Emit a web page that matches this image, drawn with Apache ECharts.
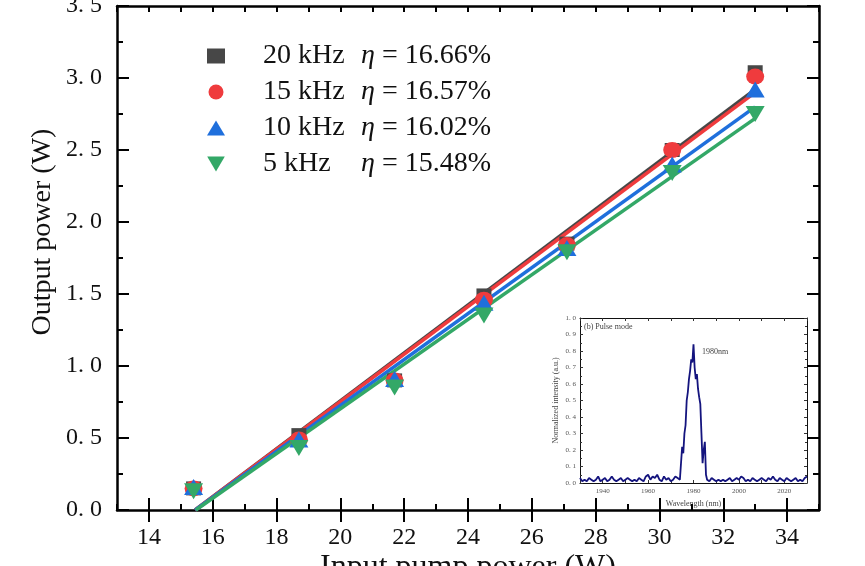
<!DOCTYPE html>
<html><head><meta charset="utf-8">
<script src="https://cdn.jsdelivr.net/npm/echarts@6/dist/echarts.min.js"></script>
<style>html,body{margin:0;padding:0;background:#fff}#c{width:865px;height:566px}</style>
</head><body><div id="c"></div>
<script>
// ---- data ----
const pumpPower = [15.4, 18.7, 21.7, 24.5, 27.1, 30.4, 33.0];
const seriesNames = ['20 kHz', '15 kHz', '10 kHz', '5 kHz'];
const etaLabels = ['16.66%', '16.57%', '16.02%', '15.48%'];
const out20 = [0.15, 0.52, 0.90, 1.49, 1.85, 2.50, 3.04];
const out15 = [0.15, 0.49, 0.90, 1.46, 1.84, 2.50, 3.01];
const out10 = [0.16, 0.49, 0.91, 1.44, 1.82, 2.40, 2.92];
const out5  = [0.13, 0.43, 0.85, 1.35, 1.79, 2.34, 2.75];
const fitStartX = [15.45, 15.45, 15.45, 15.47];
const fitEndX = [33.0, 33.0, 33.0, 33.0];
const fitEndY = [2.92, 2.90, 2.80, 2.72];
// x tick positions (13..35), labels shown on the even ones
const xTickCats = ['13','14','15','16','17','18','19','20','21','22','23','24',
                   '25','26','27','28','29','30','31','32','33','34','35'];
// inset spectrum (pulse mode): baseline left, peak, baseline right
const leftWl = [1930,1931,1932,1933,1934,1935,1936,1937,1938,1939,1940,1941,1942,1943,1944,
  1945,1946,1947,1948,1949,1950,1951,1952,1953,1954,1955,1956,1957,1958,1959,1960,1961,
  1962,1963,1964,1965,1966,1967,1968,1969,1970,1971,1972,1973,1974];
const leftInt = [0.03,0.01,0.02,0.01,0.03,0.02,0.01,0.02,0.04,0.01,
  0.02,0.03,0.01,0.02,0.04,0.02,0.01,0.02,0.03,0.01,
  0.02,0.03,0.02,0.01,0.02,0.01,0.03,0.02,0.01,0.04,
  0.05,0.02,0.04,0.03,0.05,0.02,0.01,0.04,0.02,0.03,
  0.01,0.02,0.04,0.03,0.02];
const peakWl = [1974.5,1975,1975.5,1976,1976.5,1977,1977.5,1978,1978.5,1979,1979.5,1980,
  1980.5,1981,1981.5,1982,1982.5,1983,1983.5,1984,1984.5,1985,1985.5,1986];
const peakInt = [0.02,0.22,0.18,0.30,0.35,0.50,0.55,0.63,0.68,0.75,0.73,0.84,
  0.70,0.63,0.66,0.57,0.52,0.48,0.30,0.12,0.20,0.25,0.05,0.02];
const rightWl = [1987,1988,1989,1990,1991,1992,1993,1994,1995,1996,1997,1998,1999,2000,
  2001,2002,2003,2004,2005,2006,2007,2008,2009,2010,2011,2012,2013,2014,2015,2016,2017,
  2018,2019,2020,2021,2022,2023,2024,2025,2026,2027,2028,2029,2030];
const rightInt = [0.01,0.03,0.02,0.01,0.02,0.01,0.02,0.01,0.02,0.03,
  0.01,0.02,0.03,0.02,0.04,0.03,0.01,0.02,0.01,0.03,
  0.02,0.01,0.02,0.03,0.02,0.01,0.03,0.02,0.04,0.02,
  0.01,0.03,0.02,0.01,0.03,0.02,0.01,0.02,0.03,0.01,
  0.02,0.01,0.03,0.04];
// ---- styles ----
const colors = ['#474747', '#ef3b3d', '#1f6fdc', '#33a867'];
const downTri = 'path://M0,0L20,0L10,17Z';
const symbols = ['rect', 'circle', 'triangle', downTri];
const symbolSizes = [[15, 14], [18, 16], [19, 16], [19, 16]];
const serif = '"Liberation Serif", "DejaVu Serif", serif';
const outputs = [out20, out15, out10, out5];

const chart = echarts.init(document.getElementById('c'), null, {renderer: 'canvas'});

const series = [];
outputs.forEach((arr, i) => {
  series.push({
    type: 'line', name: seriesNames[i] + ' fit', xAxisIndex: 0, yAxisIndex: 0,
    data: [[fitStartX[i], 0], [fitEndX[i], fitEndY[i]]],
    showSymbol: false, symbol: 'none', z: 2,
    lineStyle: {color: colors[i], width: 3.5}, silent: true
  });
});
outputs.forEach((arr, i) => {
  series.push({
    type: 'scatter', name: seriesNames[i], xAxisIndex: 0, yAxisIndex: 0,
    data: pumpPower.map((x, j) => [x, arr[j]]),
    symbol: symbols[i], symbolSize: symbolSizes[i],
    itemStyle: {color: colors[i], opacity: 1}, z: 3 + i
  });
});
const specWl = leftWl.concat(peakWl, rightWl);
const specInt = leftInt.concat(peakInt, rightInt);
series.push({
  type: 'line', name: 'spectrum', xAxisIndex: 4, yAxisIndex: 2,
  data: specWl.map((w, j) => [w, specInt[j]]),
  showSymbol: false, symbol: 'none', z: 5,
  lineStyle: {color: '#14147e', width: 1.8}
});

const mainAxisLine = {show: true, onZero: false, lineStyle: {color: '#000', width: 2.5}};
const insetAxisLine = {show: true, onZero: false, lineStyle: {color: '#111', width: 1}};
const insetLabel = {fontFamily: serif, fontSize: 7, color: '#555'};
const evenOnly = (idx, val) => Number(val) % 2 === 0;

const option = {
  animation: false,
  backgroundColor: '#fff',
  grid: [
    {left: 117, right: 46, top: 6, bottom: 56, containLabel: false, outerBoundsMode: 'none'},
    {left: 580, right: 58, top: 318, bottom: 83, containLabel: false, outerBoundsMode: 'none',
     show: true, backgroundColor: '#fff', borderWidth: 0}
  ],
  legend: {
    data: seriesNames.map((n, i) => ({name: n, icon: symbols[i]})),
    orient: 'vertical', left: 202, top: 37,
    itemWidth: 18, itemHeight: 15, itemGap: 8,
    formatter: function (name) {
      const i = seriesNames.indexOf(name);
      return '{p|' + name + '}{e|η}{n| = ' + etaLabels[i] + '}';
    },
    textStyle: {
      fontFamily: serif, fontSize: 28, color: '#111', padding: [0, 0, 0, 33],
      rich: {
        p: {fontFamily: serif, fontSize: 28, color: '#111', width: 98, lineHeight: 27},
        e: {fontFamily: serif, fontSize: 28, color: '#111', fontStyle: 'italic', lineHeight: 27},
        n: {fontFamily: serif, fontSize: 28, color: '#111', lineHeight: 27}
      }
    }
  },
  xAxis: [
    {gridIndex: 0, type: 'value', position: 'bottom', min: 13, max: 35, interval: 1,
     axisLine: mainAxisLine, splitLine: {show: false}, axisLabel: {show: false},
     axisTick: {show: true, inside: true, length: 6, lineStyle: {color: '#000', width: 2}}},
    {gridIndex: 0, type: 'category', position: 'bottom', data: xTickCats, boundaryGap: false,
     axisLine: {show: false}, splitLine: {show: false},
     axisTick: {show: true, inside: true, length: 12, interval: evenOnly, lineStyle: {color: '#000', width: 2}},
     axisLabel: {show: true, interval: evenOnly, margin: 16, fontFamily: serif, fontSize: 24, color: '#111'}},
    {gridIndex: 0, type: 'value', position: 'top', min: 13, max: 35, interval: 1,
     axisLine: mainAxisLine, splitLine: {show: false}, axisLabel: {show: false},
     axisTick: {show: true, inside: true, length: 6, lineStyle: {color: '#000', width: 2}}},
    {gridIndex: 0, type: 'category', position: 'top', data: xTickCats, boundaryGap: false,
     axisLine: {show: false}, splitLine: {show: false}, axisLabel: {show: false},
     axisTick: {show: true, inside: true, length: 12, interval: evenOnly, lineStyle: {color: '#000', width: 2}}},
    {gridIndex: 1, type: 'value', position: 'bottom', min: 1930, max: 2030, interval: 10,
     axisLine: insetAxisLine, splitLine: {show: false},
     axisTick: {show: true, inside: true, length: 3, lineStyle: {color: '#333', width: 1}},
     axisLabel: Object.assign({margin: 5, formatter: v => (v % 20 === 0 ? String(v) : '')}, insetLabel),
     name: 'Wavelength (nm)', nameLocation: 'middle', nameGap: 17, nameMoveOverlap: false,
     nameTextStyle: {fontFamily: serif, fontSize: 8, color: '#444'}},
    {gridIndex: 1, type: 'value', position: 'top', min: 1930, max: 2030, interval: 10,
     axisLine: insetAxisLine, splitLine: {show: false}, axisLabel: {show: false},
     axisTick: {show: true, inside: true, length: 3, lineStyle: {color: '#333', width: 1}}}
  ],
  yAxis: [
    {gridIndex: 0, type: 'value', position: 'left', min: 0, max: 3.5, interval: 0.5,
     axisLine: mainAxisLine, splitLine: {show: false},
     axisTick: {show: true, inside: true, length: 12, lineStyle: {color: '#000', width: 2}},
     minorTick: {show: true, splitNumber: 2, length: 6, lineStyle: {color: '#000', width: 2}},
     minorSplitLine: {show: false},
     axisLabel: {show: true, margin: 15, fontFamily: serif, fontSize: 24, color: '#111',
       formatter: v => v.toFixed(1).replace('.', '. ')}},
    {gridIndex: 0, type: 'value', position: 'right', min: 0, max: 3.5, interval: 0.5,
     axisLine: mainAxisLine, splitLine: {show: false}, axisLabel: {show: false},
     axisTick: {show: true, inside: true, length: 12, lineStyle: {color: '#000', width: 2}},
     minorTick: {show: true, splitNumber: 2, length: 6, lineStyle: {color: '#000', width: 2}},
     minorSplitLine: {show: false}},
    {gridIndex: 1, type: 'value', position: 'left', min: 0, max: 1, interval: 0.1,
     axisLine: insetAxisLine, splitLine: {show: false},
     axisTick: {show: true, inside: true, length: 3, lineStyle: {color: '#333', width: 1}},
     minorTick: {show: true, splitNumber: 2, length: 2, lineStyle: {color: '#333', width: 1}},
     minorSplitLine: {show: false},
     axisLabel: Object.assign({margin: 4, formatter: v => v.toFixed(1).replace('.', '. ')}, insetLabel),
     name: 'Normalized intensity (a.u.)', nameLocation: 'middle', nameGap: 20, nameMoveOverlap: false,
     nameTextStyle: {fontFamily: serif, fontSize: 8, color: '#444'}},
    {gridIndex: 1, type: 'value', position: 'right', min: 0, max: 1, interval: 0.1,
     axisLine: insetAxisLine, splitLine: {show: false}, axisLabel: {show: false},
     axisTick: {show: true, inside: true, length: 3, lineStyle: {color: '#333', width: 1}},
     minorTick: {show: true, splitNumber: 2, length: 2, lineStyle: {color: '#333', width: 1}},
     minorSplitLine: {show: false}}
  ],
  graphic: [
    {type: 'text', x: 43, y: 232, rotation: Math.PI / 2,
     style: {text: 'Output power (W)', fontFamily: serif, fontSize: 28, fill: '#111',
       align: 'center', verticalAlign: 'middle'}},
    {type: 'text', x: 468, y: 568,
     style: {text: 'Input pump power (W)', fontFamily: serif, fontSize: 32, fill: '#111',
       align: 'center', verticalAlign: 'middle'}},
    {type: 'text', x: 584, y: 327, z: 20,
     style: {text: '(b) Pulse mode', fontFamily: serif, fontSize: 8, fill: '#444', verticalAlign: 'middle'}},
    {type: 'text', x: 702, y: 352, z: 20,
     style: {text: '1980nm', fontFamily: serif, fontSize: 8, fill: '#444', verticalAlign: 'middle'}}
  ],
  series: series
};
chart.setOption(option);
</script></body></html>
